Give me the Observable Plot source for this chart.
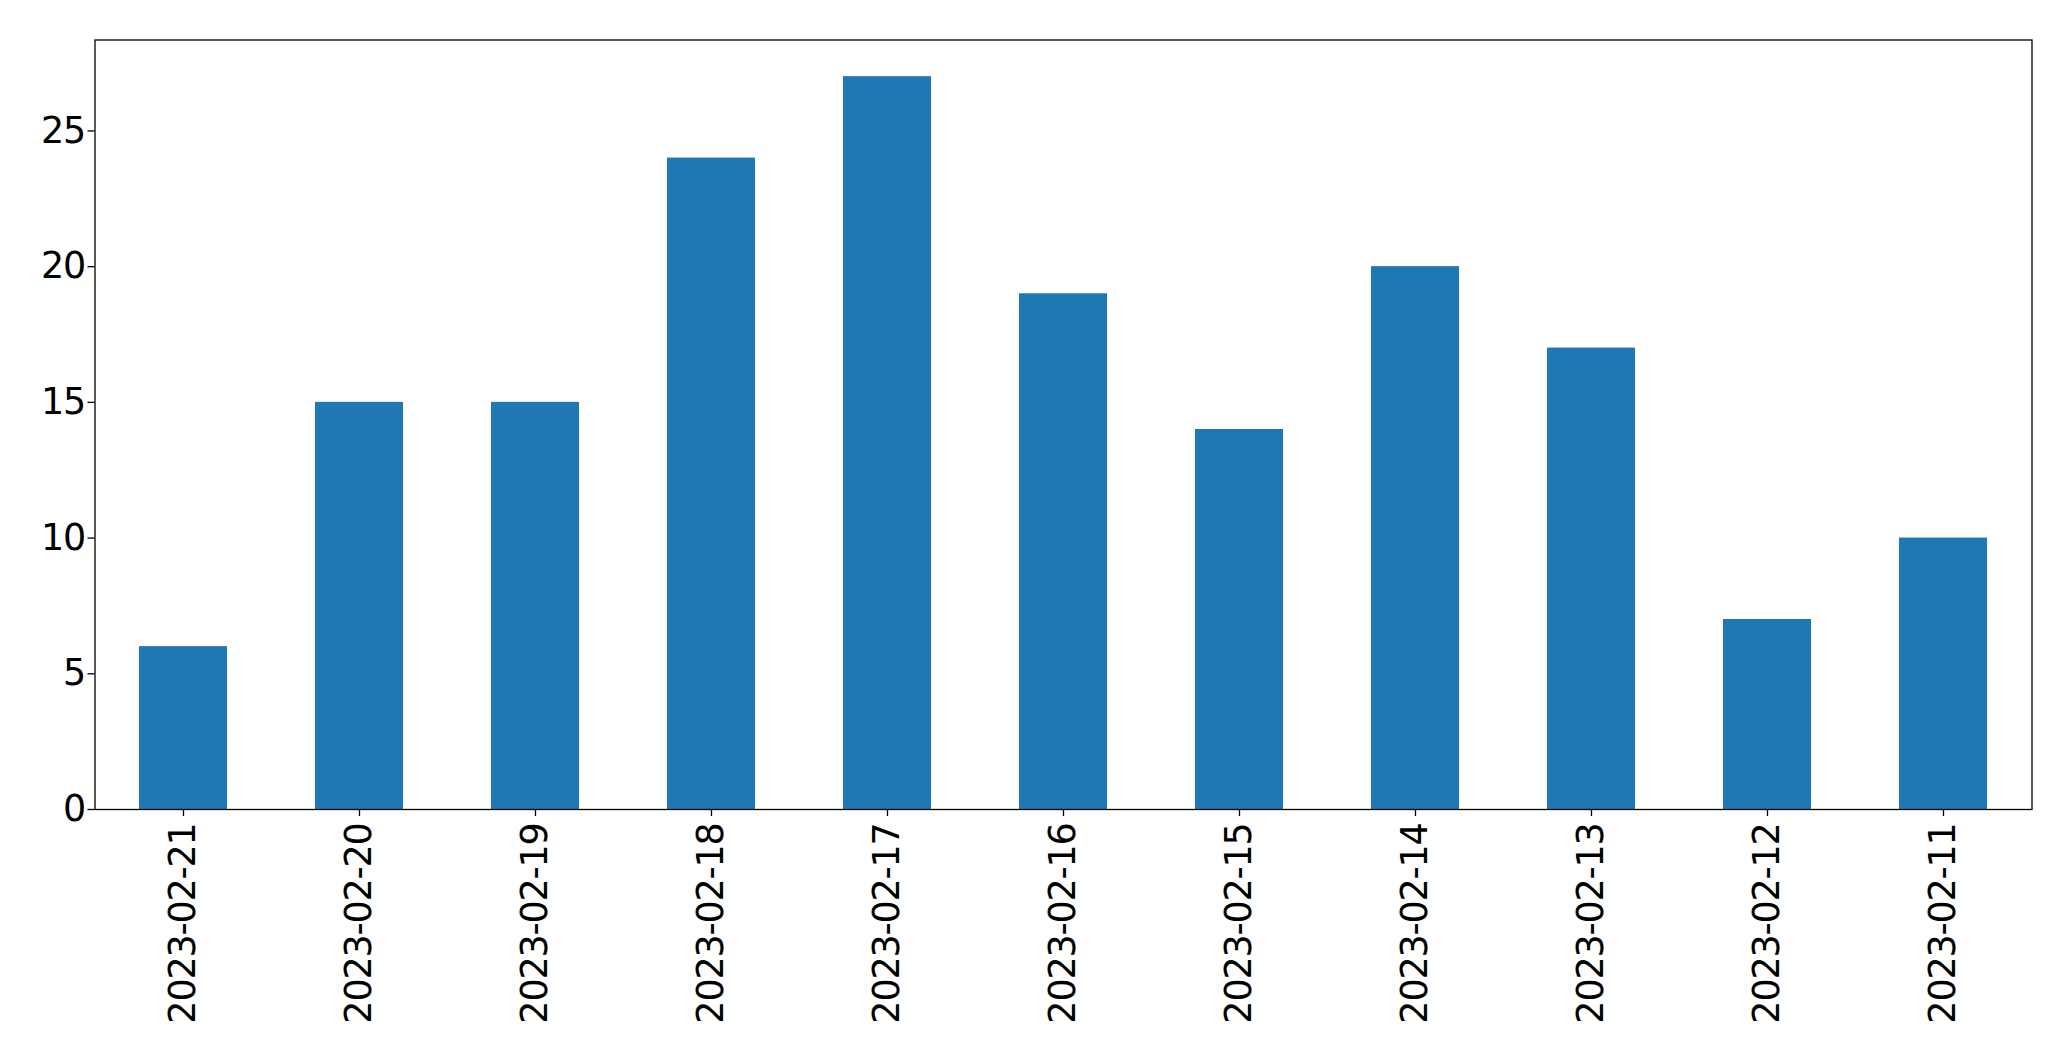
<!DOCTYPE html>
<html>
<head>
<meta charset="utf-8">
<script src="https://cdn.jsdelivr.net/npm/d3@7"></script>
<script src="https://cdn.jsdelivr.net/npm/@observablehq/plot@0.6"></script>
<style>
  html, body { margin: 0; padding: 0; background: #fff; overflow: hidden; }
  #chart svg { display: block; }
</style>
</head>
<body>
<div id="chart"></div>
<script>
const dates = ["2023-02-21","2023-02-20","2023-02-19","2023-02-18","2023-02-17","2023-02-16","2023-02-15","2023-02-14","2023-02-13","2023-02-12","2023-02-11"];
const counts = [6, 15, 15, 24, 27, 19, 14, 20, 17, 7, 10];
const yTicks = [0, 5, 10, 15, 20, 25];

const data = dates.map((d, i) => ({date: d, count: counts[i]}));

const chart = Plot.plot({
  width: 2071,
  height: 1061,
  marginLeft: 94.5,
  marginRight: 39.5,
  marginTop: 39.5,
  marginBottom: 252,
  style: {fontFamily: "DejaVu Sans", background: "#fff", color: "#000", letterSpacing: "-1.2px"},
  x: {domain: dates, paddingInner: 0.5, paddingOuter: 0.25, label: null},
  y: {domain: [0, 28.35], label: null},
  marks: [
    Plot.barY(data, {x: "date", y: "count", fill: "#1f77b4"}),
    Plot.axisX({tickRotate: -90, fontSize: 36.5, tickSize: 7, tickPadding: 7, stroke: "#000", strokeWidth: 1.3, label: null}),
    Plot.axisY({ticks: yTicks, fontSize: 36.5, tickSize: 7, tickPadding: 3, stroke: "#000", strokeWidth: 1.3, label: null}),
    Plot.frame({stroke: "#000", strokeWidth: 1.3})
  ]
});
document.getElementById("chart").appendChild(chart);
</script>
</body>
</html>
